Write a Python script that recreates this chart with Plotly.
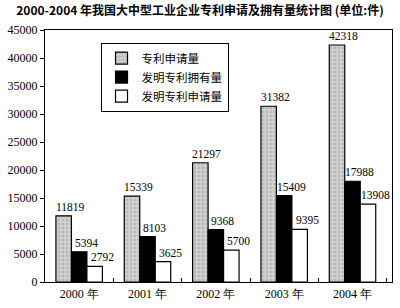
import plotly.graph_objects as go

years = ["2000 年", "2001 年", "2002 年", "2003 年", "2004 年"]
apply_total = [11819, 15339, 21297, 31382, 42318]
invent_own = [5394, 8103, 9368, 15409, 17988]
invent_apply = [2792, 3625, 5700, 9395, 13908]
series_names = ["专利申请量", "发明专利拥有量", "发明专利申请量"]

serif = "Liberation Serif, Times New Roman, serif"
cjk = "Noto Sans CJK SC"

W, H = 400, 308
ML, MR, MT, MB = 40, 7, 30, 16
BARGAP = 0.32

fig = go.Figure()
fig.add_trace(go.Bar(
    x=years, y=apply_total, name=series_names[0],
    marker=dict(color="#c6c6c6", line=dict(color="black", width=1.2),
                pattern=dict(shape=".", fgcolor="#9a9a9a", bgcolor="#cfcfcf", size=4, solidity=0.3)),
))
fig.add_trace(go.Bar(
    x=years, y=invent_own, name=series_names[1],
    marker=dict(color="black", line=dict(color="black", width=1.2)),
))
fig.add_trace(go.Bar(
    x=years, y=invent_apply, name=series_names[2],
    marker=dict(color="white", line=dict(color="black", width=1.2)),
))

# value labels (placed via the category axis, offset to each grouped bar)
cat_px = (W - ML - MR) / len(years)
bar_px = cat_px * (1 - BARGAP) / 3
for k, vals in enumerate([apply_total, invent_own, invent_apply]):
    off = (k - 1) * bar_px + 7
    for cat, v in zip(years, vals):
        fig.add_annotation(x=cat, y=v, text=str(v), showarrow=False,
                           xanchor="center", yanchor="bottom", xshift=off, yshift=1,
                           font=dict(family=serif, size=11.5, color="black"))

fig.update_layout(
    width=W, height=H,
    margin=dict(l=ML, r=MR, t=MT, b=MB),
    paper_bgcolor="white", plot_bgcolor="white",
    barmode="group", bargap=BARGAP, bargroupgap=0,
    title=dict(text="<b>2000-2004 年我国大中型工业企业专利申请及拥有量统计图 (单位:件)</b>",
               x=0.5, xanchor="center", y=0.978, yanchor="top",
               font=dict(family=cjk, size=12, color="black")),
    legend=dict(x=0.16, y=0.95, xanchor="left", yanchor="top",
                bgcolor="white", bordercolor="black", borderwidth=1,
                font=dict(family=cjk, size=11.5, color="black"),
                itemwidth=30, tracegroupgap=0),
    showlegend=True,
)
fig.update_xaxes(
    showline=True, linecolor="black", linewidth=1.2, mirror=True,
    ticks="inside", tickson="boundaries", ticklen=4, tickcolor="black",
    tickfont=dict(family=serif, size=12, color="black"),
    showgrid=False,
)
fig.update_yaxes(
    range=[0, 45000], dtick=5000, tickformat="d",
    showline=True, linecolor="black", linewidth=1.2, mirror=True,
    ticks="outside", ticklen=4, tickcolor="black",
    tickfont=dict(family=serif, size=12, color="black"),
    showgrid=False, zeroline=False,
)

fig.write_html("out.html")
